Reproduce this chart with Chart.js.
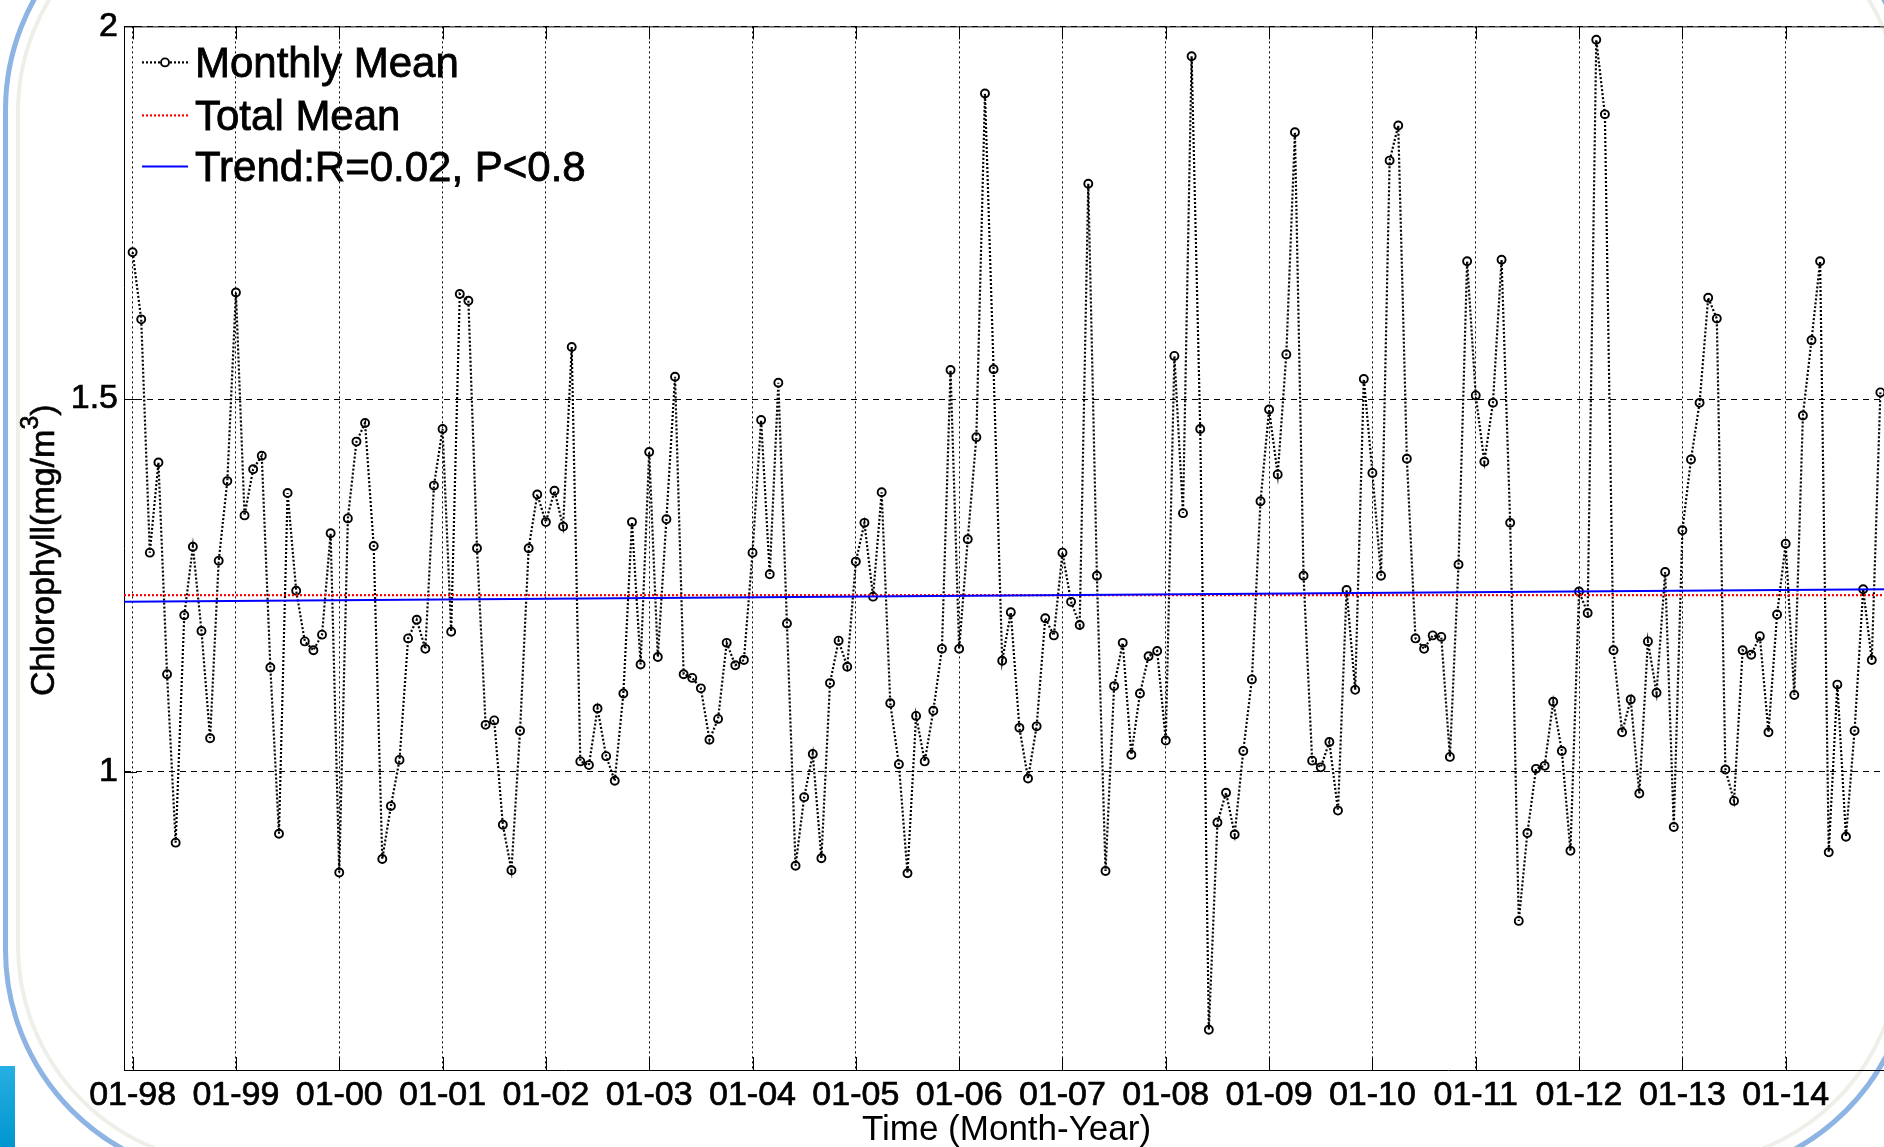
<!DOCTYPE html>
<html>
<head>
<meta charset="utf-8">
<title>Chlorophyll monthly mean 1998-2014</title>
<script src="https://cdn.jsdelivr.net/npm/chart.js@4.4.1/dist/chart.umd.min.js"></script>
<style>
  html, body { margin: 0; padding: 0; background: #fff; overflow: hidden; }
  body { width: 1884px; height: 1147px; position: relative; }
  /* slide frame behind the figure */
  #frame { position: absolute; left: 3px; top: -120px; width: 1912px; height: 1300px;
           border: 5px solid #8eb4e3; border-radius: 230px; box-sizing: border-box; }
  #frame-inner { position: absolute; left: 16px; top: -108px; width: 1886px; height: 1274px;
                 border: 4px solid #efefe9; border-radius: 220px; box-sizing: border-box; }
  #tab { position: absolute; left: 0; top: 1066px; width: 15px; height: 81px;
         background: linear-gradient(to bottom, #27afe2, #0096cf); }
  #wrap { position: absolute; left: 0; top: 0; width: 1900px; height: 1147px; }
</style>
</head>
<body>
<div id="frame-inner"></div>
<div id="frame"></div>
<div id="tab"></div>
<div id="wrap"><canvas id="chl-chart"></canvas></div>
<script>
// monthly chlorophyll means, Jan 1998 .. Dec 2014 (mg/m3)
var chlMonthly = [
    1.697, 1.607, 1.294, 1.415, 1.131, 0.905, 1.210, 1.302, 1.189, 1.045, 1.283, 1.390, // 1998
    1.643, 1.344, 1.406, 1.424, 1.140, 0.917, 1.374, 1.243, 1.175, 1.163, 1.184, 1.320, // 1999
    0.865, 1.340, 1.443, 1.468, 1.303, 0.883, 0.954, 1.016, 1.179, 1.204, 1.165, 1.384, // 2000
    1.460, 1.188, 1.641, 1.632, 1.300, 1.063, 1.069, 0.929, 0.868, 1.055, 1.300, 1.372, // 2001
    1.335, 1.377, 1.329, 1.570, 1.014, 1.009, 1.085, 1.021, 0.988, 1.105, 1.335, 1.144, // 2002
    1.429, 1.154, 1.339, 1.530, 1.131, 1.126, 1.112, 1.043, 1.071, 1.173, 1.143, 1.150, // 2003
    1.294, 1.472, 1.265, 1.522, 1.199, 0.874, 0.966, 1.024, 0.884, 1.119, 1.176, 1.141, // 2004
    1.282, 1.334, 1.235, 1.375, 1.092, 1.010, 0.864, 1.075, 1.014, 1.082, 1.165, 1.539, // 2005
    1.165, 1.312, 1.449, 1.910, 1.540, 1.149, 1.214, 1.059, 0.991, 1.061, 1.206, 1.183, // 2006
    1.294, 1.228, 1.197, 1.789, 1.263, 0.867, 1.115, 1.173, 1.023, 1.105, 1.155, 1.162, // 2007
    1.042, 1.558, 1.347, 1.960, 1.460, 0.654, 0.932, 0.972, 0.916, 1.028, 1.124, 1.363, // 2008
    1.486, 1.399, 1.560, 1.858, 1.263, 1.015, 1.006, 1.040, 0.948, 1.244, 1.110, 1.527, // 2009
    1.401, 1.263, 1.820, 1.867, 1.420, 1.179, 1.165, 1.183, 1.181, 1.020, 1.278, 1.685, // 2010
    1.505, 1.416, 1.495, 1.687, 1.334, 0.800, 0.918, 1.004, 1.008, 1.094, 1.028, 0.894, // 2011
    1.242, 1.213, 1.982, 1.882, 1.163, 1.053, 1.097, 0.971, 1.175, 1.106, 1.268, 0.926, // 2012
    1.324, 1.419, 1.495, 1.636, 1.608, 1.003, 0.961, 1.163, 1.157, 1.182, 1.053, 1.211, // 2013
    1.306, 1.103, 1.478, 1.579, 1.685, 0.892, 1.117, 0.913, 1.055, 1.245, 1.150, 1.509  // 2014
];

var tickLabels = ["01-98", "01-99", "01-00", "01-01", "01-02", "01-03", "01-04", "01-05", "01-06",
                  "01-07", "01-08", "01-09", "01-10", "01-11", "01-12", "01-13", "01-14"];
var yTicks = [1, 1.5, 2];

var totalMean = 1.237;
var trendEnds = [1.228, 1.245];   // trend value at left and right edge of the axis
var xRange = [-1, 204];           // months since Jan 1998

var legendLabels = ["Monthly Mean", "Total Mean", "Trend:R=0.02, P<0.8"];

var FONT = '"Liberation Sans", Arial, Helvetica, sans-serif';
Chart.defaults.font.family = FONT;
Chart.defaults.color = "#000";

// filled text with a thin outline so it reads a bit heavier
function heavyText(ctx, text, x, y) {
    ctx.fillText(text, x, y);
    ctx.strokeText(text, x, y);
}

// tick marks pointing into the plot, plus the top/right box edges
var boxPlugin = {
    id: "box",
    afterDatasetsDraw: function (chart) {
        var ctx = chart.ctx, a = chart.chartArea;
        var xs = chart.scales.x, ys = chart.scales.y;
        ctx.save();
        ctx.strokeStyle = "#000";
        ctx.lineWidth = 1;
        ctx.beginPath();
        ctx.moveTo(a.left, a.top + 0.5);
        ctx.lineTo(a.right, a.top + 0.5);
        ctx.moveTo(a.right - 0.5, a.top);
        ctx.lineTo(a.right - 0.5, a.bottom);
        xs.ticks.forEach(function (t) {
            var px = Math.round(xs.getPixelForValue(t.value)) + 0.5;
            ctx.moveTo(px, a.bottom);
            ctx.lineTo(px, a.bottom - 13);
            ctx.moveTo(px, a.top);
            ctx.lineTo(px, a.top + 13);
        });
        ys.ticks.forEach(function (t) {
            var py = Math.round(ys.getPixelForValue(t.value)) + 0.5;
            ctx.moveTo(a.left, py);
            ctx.lineTo(a.left + 13, py);
        });
        ctx.stroke();
        ctx.restore();
    }
};

// legend in the upper left corner, no box
var legendPlugin = {
    id: "cornerLegend",
    afterDraw: function (chart) {
        var ctx = chart.ctx, a = chart.chartArea;
        var x0 = a.left + 18, x1 = a.left + 64, tx = a.left + 71;
        var baselines = [a.top + 51, a.top + 104, a.top + 155];
        ctx.save();
        ctx.font = "42px " + FONT;
        ctx.textBaseline = "alphabetic";
        chart.data.datasets.forEach(function (ds, i) {
            var ly = baselines[i] - 15;
            ctx.strokeStyle = ds.borderColor;
            ctx.lineWidth = ds.borderWidth;
            ctx.setLineDash(ds.borderDash || []);
            ctx.beginPath();
            ctx.moveTo(x0, ly);
            ctx.lineTo(x1, ly);
            ctx.stroke();
            ctx.setLineDash([]);
            if (ds.pointRadius > 0) {
                ctx.fillStyle = "#fff";
                ctx.lineWidth = ds.pointBorderWidth;
                ctx.beginPath();
                ctx.arc((x0 + x1) / 2, ly, ds.pointRadius, 0, Math.PI * 2);
                ctx.fill();
                ctx.stroke();
            }
            ctx.fillStyle = "#000";
            ctx.strokeStyle = "#000";
            ctx.lineWidth = 0.8;
            heavyText(ctx, ds.label, tx, baselines[i]);
        });
        ctx.restore();
    }
};

// rotated y-axis title with a raised exponent
var yTitlePlugin = {
    id: "yTitle",
    afterDraw: function (chart) {
        var ctx = chart.ctx, a = chart.chartArea;
        var main = "Chlorophyll(mg/m", sup = "3", tail = ")";
        ctx.save();
        ctx.translate(45, (a.top + a.bottom) / 2 + 2);
        ctx.rotate(-Math.PI / 2);
        ctx.fillStyle = "#000";
        ctx.strokeStyle = "#000";
        ctx.lineWidth = 0.6;
        ctx.textBaseline = "middle";
        ctx.font = "34px " + FONT;
        var wMain = ctx.measureText(main).width, wTail = ctx.measureText(tail).width;
        ctx.font = "25px " + FONT;
        var wSup = ctx.measureText(sup).width;
        var x = -(wMain + wSup + wTail) / 2;
        ctx.font = "34px " + FONT;
        heavyText(ctx, main, x, 0);
        ctx.font = "25px " + FONT;
        heavyText(ctx, sup, x + wMain, -14);
        ctx.font = "34px " + FONT;
        heavyText(ctx, tail, x + wMain + wSup, 0);
        ctx.restore();
    }
};

var monthlyPoints = chlMonthly.map(function (v, i) { return { x: i, y: v }; });

var data = {
    datasets: [
        {
            label: legendLabels[0],
            data: monthlyPoints,
            borderColor: "#000",
            borderWidth: 2.2,
            borderDash: [2, 2],
            pointRadius: 4,
            pointBorderWidth: 1.9,
            pointBorderColor: "#000",
            pointBackgroundColor: "rgba(0,0,0,0)",
            tension: 0,
            order: 3
        },
        {
            label: legendLabels[1],
            data: [{ x: xRange[0], y: totalMean }, { x: xRange[1], y: totalMean }],
            borderColor: "#ff0000",
            borderWidth: 2.2,
            borderDash: [2, 2],
            pointRadius: 0,
            order: 2
        },
        {
            label: legendLabels[2],
            data: [{ x: xRange[0], y: trendEnds[0] }, { x: xRange[1], y: trendEnds[1] }],
            borderColor: "#0000ff",
            borderWidth: 2,
            pointRadius: 0,
            order: 1
        }
    ]
};

var options = {
    responsive: true,
    maintainAspectRatio: false,
    animation: false,
    devicePixelRatio: 1,
    layout: { padding: { left: 0, top: 22, right: 11, bottom: 0 } },
    plugins: {
        legend: { display: false },
        tooltip: { enabled: false }
    },
    scales: {
        x: {
            type: "linear",
            min: xRange[0],
            max: xRange[1],
            afterBuildTicks: function (scale) {
                scale.ticks = tickLabels.map(function (t, i) { return { value: i * 12 }; });
            },
            afterFit: function (scale) { scale.height = 77; },
            ticks: {
                callback: function (value) { return tickLabels[Math.round(value / 12)]; },
                font: { size: 34 },
                padding: 5,
                maxRotation: 0,
                autoSkip: false,
                color: "#000",
                textStrokeColor: "#000",
                textStrokeWidth: 0.7
            },
            grid: { color: "#000", lineWidth: 1, drawTicks: false },
            border: { display: true, color: "#000", width: 1, dash: [2, 3] },
            title: {
                display: true,
                text: "Time (Month-Year)",
                font: { size: 35, lineHeight: 1 },
                padding: { top: 0, bottom: -1 },
                color: "#000"
            }
        },
        y: {
            min: 0.6,
            max: 2,
            afterBuildTicks: function (scale) {
                scale.ticks = yTicks.map(function (v) { return { value: v }; });
            },
            afterFit: function (scale) { scale.width = 124; },
            ticks: {
                callback: function (value) { return String(value); },
                font: { size: 34 },
                padding: 6,
                color: "#000",
                textStrokeColor: "#000",
                textStrokeWidth: 0.7
            },
            grid: { color: "#000", lineWidth: 1, drawTicks: false },
            border: { display: true, color: "#000", width: 1, dash: [6, 5] }
        }
    }
};

new Chart(document.getElementById("chl-chart").getContext("2d"), {
    type: "line",
    data: data,
    options: options,
    plugins: [boxPlugin, legendPlugin, yTitlePlugin]
});
</script>
</body>
</html>
